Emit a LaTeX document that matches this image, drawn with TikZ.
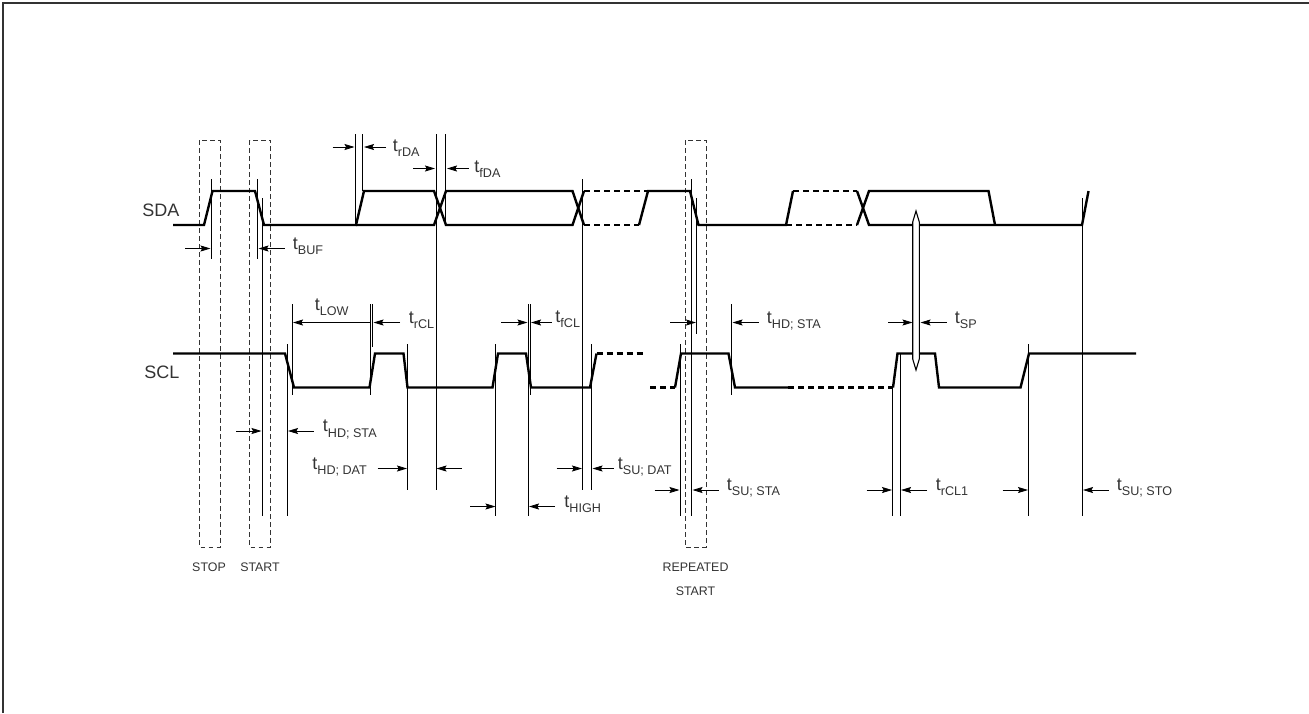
\documentclass[tikz,border=0pt]{standalone}
\usepackage{fontspec}
\setmainfont{Liberation Sans}
\usetikzlibrary{arrows.meta}
\definecolor{inkgray}{gray}{0.2}
% time label with a lowered subscript
\newcommand{\tsub}[1]{\fontsize{9}{10}\selectfont t\raisebox{-0.33em}{\fontsize{6.3}{7}\selectfont #1}}

\begin{document}
\begin{tikzpicture}[x=0.5pt,y=-0.5pt]
      \tikzstyle{trace}=[line width=1.2pt,line join=miter]
      \tikzstyle{tracedash}=[line width=1.1pt,dash pattern=on 3pt off 2pt]
      \tikzstyle{guide}=[line width=.4pt]
      \tikzstyle{window}=[line width=.45pt,inkgray,dash pattern=on 2.4pt off 1.6pt]
      \tikzstyle{dim}=[line width=.4pt,-{Stealth[length=5pt,width=3pt,inset=0.8pt]}]
      \tikzstyle{lbl}=[anchor=base west,inner sep=0pt,text=inkgray]
      \tikzstyle{sig}=[anchor=base west,inner sep=0pt,text=inkgray,font=\fontsize{9}{10}\selectfont]
      \tikzstyle{caption}=[anchor=base,inner sep=0pt,text=inkgray,font=\fontsize{6.2}{7}\selectfont]

      \useasboundingbox (0,0) rectangle (1309,713);
      \draw[line width=1.4pt,inkgray] (3,713) -- (3,3) -- (1309,3);

      % signal names
      \node[sig] (sda) at (142,216) {SDA};
      \node[sig] (scl) at (144,378) {SCL};

      % windows
      \draw[window] (199.5,140) rectangle (220,547);
      \draw[window] (249.5,140) rectangle (270.5,547);
      \draw[window] (685,140) rectangle (706,547);
      \node[caption] (stop) at (209,571) {STOP};
      \node[caption] (start) at (260,571) {START};
      \node[caption] (rep) at (695.5,571) {REPEATED};
      \node[caption] (repstart) at (695.5,595) {START};

      % SDA
      \draw[trace] (173,225) -- (204,225) -- (212.5,191) -- (255,191) -- (264,225) -- (356,225) -- (364,191) -- (434,191) -- (446,225) -- (572.5,225) -- (584,191);
      \draw[trace] (356,225) -- (434,225) -- (446,191) -- (572.5,191) -- (584,225);
      \draw[tracedash] (584,191) -- (648,191);
      \draw[tracedash] (584,225) -- (639,225);
      \draw[trace] (639,225) -- (648,191) -- (690,191) -- (698.5,225) -- (786,225) -- (793,191);
      \draw[tracedash] (793,191) -- (857,191);
      \draw[tracedash] (786,225) -- (857,225);
      \draw[trace] (857,191) -- (869,225) -- (1082,225) -- (1088.5,191);
      \draw[trace] (857,225) -- (869,191) -- (988.5,191) -- (995,225);

      % SCL
      \draw[trace] (173,353.5) -- (285,353.5) -- (294,387.5) -- (369.5,387.5) -- (375,353.5) -- (403.5,353.5) -- (407.5,387.5) -- (492.5,387.5) -- (498,353.5) -- (526,353.5) -- (531,387.5) -- (590,387.5) -- (596.5,353.5);
      \draw[tracedash] (596.5,353.5) -- (644,353.5);
      \draw[tracedash] (650,387.5) -- (675,387.5);
      \draw[trace] (675,387.5) -- (681,353.5) -- (728.5,353.5) -- (735,387.5) -- (788,387.5);
      \draw[tracedash] (788,387.5) -- (893,387.5);
      \draw[trace] (893,387.5) -- (897.5,353.5) -- (935,353.5) -- (939,387.5) -- (1020.5,387.5) -- (1029,353.5) -- (1136,353.5);

      % guides
      \foreach \xa/\ya/\yb in {211.5/179/259, 257.5/179/259, 262.5/198/516, 355.5/134/225, 362.5/134/191, 436/134/490, 445.5/134/225, 582.5/179/490, 591.5/344/490, 691.5/179/516, 680/344/516, 696.5/198/334, 731.5/304/395, 292.5/304/395, 370/304/395, 372.5/304/347, 287/344/516, 407.5/344/490, 495.5/344/516, 528/304/516, 530/304/395, 892.5/387/516, 900.5/353/516, 1028.5/344/516, 1082/198/516}
      \draw[guide] (\xa,\ya) -- (\xa,\yb);

      % spike
      \draw[line width=.55pt,fill=white] (916,211) -- (919.3,222) -- (919.3,359) -- (916,370) -- (912.7,359) -- (912.7,222) -- cycle;

      % dimension arrows
      \foreach \xa/\xb/\ya in {185/210.5/248.5, 284.5/258.5/248.5, 332.5/354.5/147, 386/364/147, 413/435/168.5, 468.5/447/168.5, 236/261.5/431, 313.5/288/431, 377.5/407/468.5, 461.5/436.5/468.5, 400/373.5/322.5, 501/527.5/322.5, 551.5/531/322.5, 556.5/582/468.5, 613.5/592.5/468.5, 670/696/322.5, 758.5/732.5/322.5, 888/912.5/322.5, 946.5/920.5/322.5, 470/495.5/506.5, 555/529/506.5, 654.5/679.5/490, 718.5/692.5/490, 866.5/892/490, 927/901/490, 1002.5/1028/490, 1108.5/1083/490}
      \draw[dim] (\xa,\ya) -- (\xb,\ya);
      \draw[dim,{Stealth[length=5pt,width=3pt,inset=0.8pt]}-] (293,322.5) -- (370,322.5);

      % time labels
      \node[lbl] (tbuf) at (292.5,249) {\tsub{BUF}};
      \node[lbl] (trda) at (392.5,151) {\tsub{rDA}};
      \node[lbl] (tfda) at (474,172) {\tsub{fDA}};
      \node[lbl] (tlow) at (314.5,310) {\tsub{LOW}};
      \node[lbl] (trcl) at (408.5,323) {\tsub{rCL}};
      \node[lbl] (tfcl) at (555,322) {\tsub{fCL}};
      \node[lbl] (thdsta) at (766.5,323) {\tsub{HD; STA}};
      \node[lbl] (tsp) at (954.5,323) {\tsub{SP}};
      \node[lbl] (thdstaa) at (322.5,431.5) {\tsub{HD; STA}};
      \node[lbl] (thddat) at (312,469) {\tsub{HD; DAT}};
      \node[lbl] (tsudat) at (617.5,469) {\tsub{SU; DAT}};
      \node[lbl] (thigh) at (564,507) {\tsub{HIGH}};
      \node[lbl] (tsusta) at (726.5,490) {\tsub{SU; STA}};
      \node[lbl] (trcla) at (935.5,490) {\tsub{rCL1}};
      \node[lbl] (tsusto) at (1116.5,490) {\tsub{SU; STO}};
\end{tikzpicture}
\end{document}
